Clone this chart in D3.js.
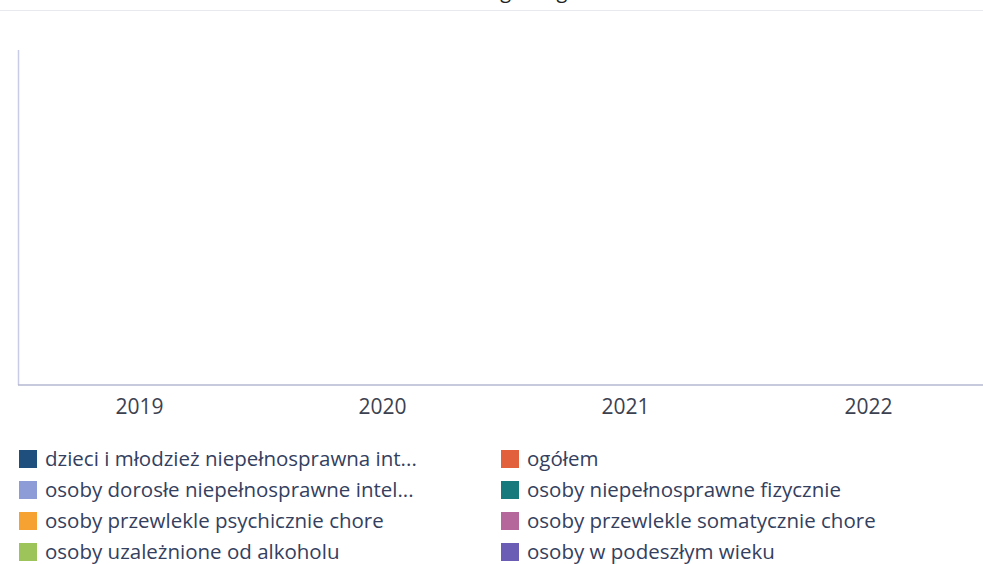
<!DOCTYPE html>
<html>
<head>
<meta charset="utf-8">
<script src="https://cdn.jsdelivr.net/npm/d3@7"></script>
<style>
  html, body { margin: 0; padding: 0; background: #fff; }
  svg { display: block; }
</style>
</head>
<body>
<svg id="chart" width="983" height="564"></svg>
<script>
const titleText = "Liczba uczestników według kategorii osób";
const years = ["2019", "2020", "2021", "2022"];
const seriesNames = [
  "dzieci i młodzież niepełnosprawna int...",
  "ogółem",
  "osoby dorosłe niepełnosprawne intel...",
  "osoby niepełnosprawne fizycznie",
  "osoby przewlekle psychicznie chore",
  "osoby przewlekle somatycznie chore",
  "osoby uzależnione od alkoholu",
  "osoby w podeszłym wieku"
];
const seriesColors = ["#1f4f7c", "#e2603b", "#8d9bd6", "#18797c", "#f6a233", "#b5679b", "#9cc45b", "#6b5cb5"];
// No values are shown in the reference chart (empty plot area)
const seriesValues = [
  [null, null, null, null],
  [null, null, null, null],
  [null, null, null, null],
  [null, null, null, null],
  [null, null, null, null],
  [null, null, null, null],
  [null, null, null, null],
  [null, null, null, null]
];

const svg = d3.select("#chart");
const W = 983;
const margin = { left: 18, top: 50, bottom: 385, right: 990 };

// title (cut off at the top of the picture, as in the reference)
svg.append("text")
  .attr("x", 455).attr("y", -2)
  .attr("text-anchor", "middle")
  .attr("font-family", "Open Sans, sans-serif")
  .attr("font-size", 20)
  .attr("fill", "#222")
  .text(titleText);

// faint header line
svg.append("line")
  .attr("x1", 0).attr("x2", W).attr("y1", 10.5).attr("y2", 10.5)
  .attr("stroke", "#e8e8ef").attr("stroke-width", 1);

const x = d3.scaleBand().domain(years).range([margin.left, margin.right]).paddingInner(0.2).paddingOuter(0.1);
const x1 = d3.scaleBand().domain(seriesNames).range([0, x.bandwidth()]).padding(0.05);
const allVals = seriesValues.flat().filter(v => v != null);
const y = d3.scaleLinear().domain([0, d3.max(allVals) || 1]).range([margin.bottom, margin.top]);

// bars (none visible – all values missing)
const bars = [];
seriesNames.forEach((s, i) => years.forEach((yr, j) => {
  const v = seriesValues[i][j];
  if (v != null) bars.push({ s, yr, v, c: seriesColors[i] });
}));
svg.append("g").selectAll("rect").data(bars).join("rect")
  .attr("x", d => x(d.yr) + x1(d.s))
  .attr("width", x1.bandwidth())
  .attr("y", d => y(d.v))
  .attr("height", d => y(0) - y(d.v))
  .attr("fill", d => d.c);

// left frame line
svg.append("line")
  .attr("x1", margin.left + 0.5).attr("x2", margin.left + 0.5)
  .attr("y1", margin.top).attr("y2", margin.bottom)
  .attr("stroke", "#c9cce6").attr("stroke-width", 1.5);

// x axis
const xAxis = svg.append("g")
  .attr("transform", `translate(0,${margin.bottom})`)
  .call(d3.axisBottom(x).tickSize(0).tickPadding(14));
xAxis.select(".domain").attr("stroke", "#b4b7d2").attr("stroke-width", 1.5)
  .attr("d", `M${margin.left},0H${W}`);
xAxis.selectAll("text")
  .attr("font-family", "Open Sans, sans-serif")
  .attr("font-size", 21)
  .attr("fill", "#3c4150");

// legend
const legendX = [19, 501];
const legendY0 = 459, legendDy = 31;
const lg = svg.append("g").selectAll("g").data(seriesNames).join("g")
  .attr("transform", (d, i) => `translate(${legendX[i % 2]},${legendY0 + Math.floor(i / 2) * legendDy})`);
lg.append("rect")
  .attr("x", 0).attr("y", -9).attr("width", 18).attr("height", 18)
  .attr("fill", (d, i) => seriesColors[i]);
lg.append("text")
  .attr("x", 26).attr("y", 0).attr("dy", "0.35em")
  .attr("font-family", "Open Sans, sans-serif")
  .attr("font-size", 20.5)
  .attr("fill", "#34405e")
  .text(d => d);
</script>
</body>
</html>
